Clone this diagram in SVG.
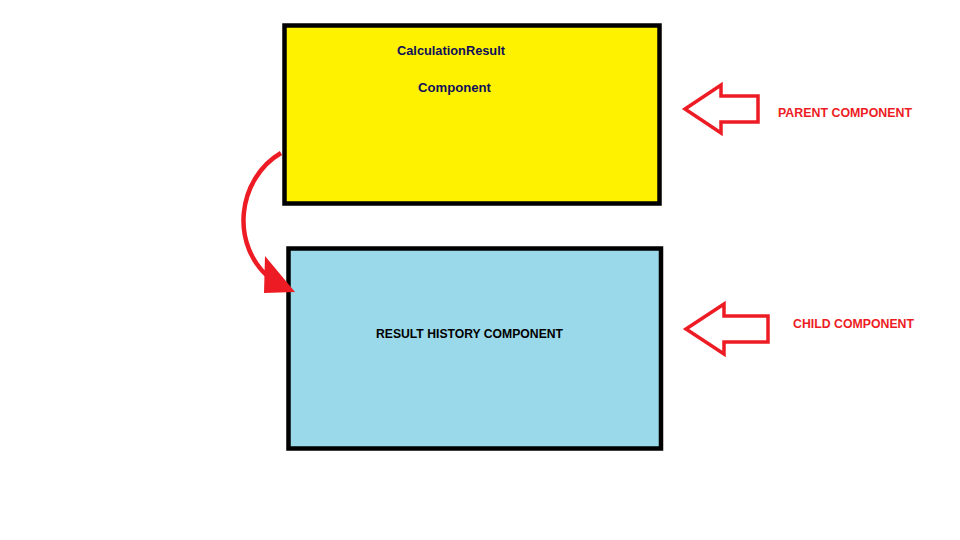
<svg xmlns="http://www.w3.org/2000/svg" width="960" height="540" viewBox="0 0 960 540">
<style>
.box{stroke:#000;stroke-width:4.5}
.lbl{font-family:"Liberation Sans",Arial,sans-serif;font-weight:bold;font-size:12px}
.red{fill:#ED1C24}
.outline{fill:none;stroke:#ED1C24;stroke-width:3.5;stroke-linejoin:miter}
</style>
<rect width="960" height="540" fill="#fff"/>
<g id="parent">
<rect class="box" x="284.5" y="25.5" width="375" height="178" fill="#FFF200"/>
<text class="lbl" x="397" y="55" fill="#10105a" textLength="108" lengthAdjust="spacingAndGlyphs">CalculationResult</text>
<text class="lbl" x="418" y="92" fill="#10105a" textLength="73" lengthAdjust="spacingAndGlyphs">Component</text>
</g>
<g id="child">
<rect class="box" x="288.5" y="248.5" width="372.5" height="200" fill="#99D9EA"/>
<text class="lbl" x="376" y="338" fill="#000" textLength="187" lengthAdjust="spacingAndGlyphs">RESULT HISTORY COMPONENT</text>
</g>
<g id="parent-marker">
<polygon class="outline" points="685,109 721,85 721,96 758,96 758,122 721,122 721,133"/>
<text class="lbl red" x="778" y="117" textLength="134" lengthAdjust="spacingAndGlyphs">PARENT COMPONENT</text>
</g>
<g id="child-marker">
<polygon class="outline" points="686,329 724,304 724,316 768,316 768,342 724,342 724,354"/>
<text class="lbl red" x="793" y="328" textLength="121" lengthAdjust="spacingAndGlyphs">CHILD COMPONENT</text>
</g>
<g id="connectors">
<path d="M281,153 C238,178 228,245 272,280" fill="none" stroke="#ED1C24" stroke-width="4.5"/>
<polygon class="red" points="265,256 295,292 264,293"/>
</g>
</svg>
